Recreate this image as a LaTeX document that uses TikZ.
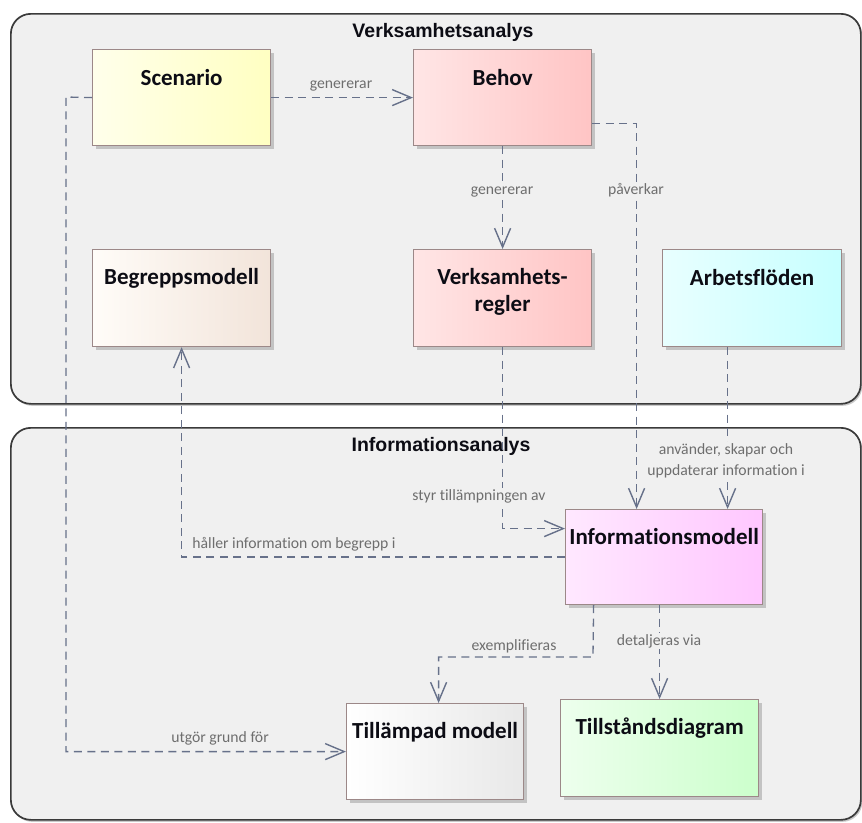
\documentclass[tikz,border=0pt]{standalone}
\usepackage{fontspec}
\setmainfont{Carlito}[Ligatures={NoCommon}]
\newfontfamily\pkgfont{Liberation Sans}
\usetikzlibrary{arrows.meta,shadows,calc}
\definecolor{pkgfill}{HTML}{F0F0F0}
\definecolor{pkgdraw}{HTML}{3A3A3A}
\definecolor{boxdraw}{HTML}{9C8888}
\definecolor{conncol}{HTML}{67718A}
\definecolor{lblcol}{HTML}{6E6E6E}
\definecolor{ttlcol}{HTML}{0C0C14}
\begin{document}
\begin{tikzpicture}[x=1pt,y=-1pt,
  pkg/.style={draw=pkgdraw, line width=1.7pt, fill=pkgfill, rounded corners=20pt,
    anchor=north west, inner sep=0pt,
    drop shadow={shadow xshift=1.5pt, shadow yshift=-2pt, fill=black!35, opacity=0.6}},
  pkgtitle/.style={font=\pkgfont\bfseries\fontsize{19.5}{21}\selectfont, text=ttlcol, inner sep=0pt},
  box/.style={draw=boxdraw, line width=1.2pt, anchor=north west, inner sep=0pt,
    drop shadow={shadow xshift=3pt, shadow yshift=-3pt, fill=black!28, opacity=0.8}},
  ttl/.style={font=\bfseries\fontsize{23}{27.5}\selectfont, text=ttlcol, align=center, inner sep=0pt},
  lbl/.style={font=\fontsize{15.7}{21}\selectfont, text=lblcol, fill=pkgfill, inner sep=1pt, align=center},
  conn/.style={draw=conncol, line width=1.3pt, dash pattern=on 8pt off 5.5pt,
    -{Straight Barb[length=19pt,width=16pt,line width=1.4pt]}}
]
\useasboundingbox (0,0) rectangle (862,822);
\fill[white] (0,0) rectangle (862,822);

% packages
\node[pkg, minimum width=850pt, minimum height=390pt] (pkA) at (10,13) {};
\node[pkgtitle] (pkAt) at (443,32) {Verksamhetsanalys};
\node[pkg, minimum width=850pt, minimum height=392pt] (pkB) at (10,427) {};
\node[pkgtitle] (pkBt) at (441,446) {Informationsanalys};

% boxes
\node[box, left color=yellow!8, right color=yellow!24, minimum width=178pt, minimum height=96pt] (sc) at (92,49) {};
\node[box, left color=red!10, right color=red!23, minimum width=178pt, minimum height=96pt] (be) at (413,49) {};
\node[box, left color={rgb,255:red,255;green,252;blue,248}, right color={rgb,255:red,242;green,228;blue,218}, minimum width=178pt, minimum height=97pt] (bm) at (92,249) {};
\node[box, left color=red!10, right color=red!23, minimum width=178pt, minimum height=97pt] (vr) at (413,249) {};
\node[box, left color=cyan!9, right color=cyan!22, minimum width=179pt, minimum height=97pt] (af) at (662,249) {};
\node[box, left color=magenta!9, right color=magenta!22, minimum width=197pt, minimum height=95pt] (im) at (565,509) {};
\node[box, left color=white, right color=black!9, minimum width=177pt, minimum height=96pt] (tm) at (346,703) {};
\node[box, left color=green!7, right color=green!20, minimum width=198pt, minimum height=97pt] (td) at (560,699) {};

\node[ttl] (scT) at ([yshift=-29pt]sc.north) {Scenario};
\node[ttl] (beT) at ([yshift=-29pt]be.north) {Behov};
\node[ttl] (bmT) at ([yshift=-29pt]bm.north) {Begreppsmodell};
\node[ttl] (vrT) at ([yshift=-43pt]vr.north) {Verksamhets-\\regler};
\node[ttl] (afT) at ([yshift=-29pt]af.north) {Arbetsflöden};
\node[ttl] (imT) at ([yshift=-28pt]im.north) {Informationsmodell};
\node[ttl] (tmT) at ([yshift=-29pt]tm.north) {Tillämpad modell};
\node[ttl] (tdT) at ([yshift=-29pt]td.north) {Tillståndsdiagram};

% waypoints
\coordinate (w1) at (66,97);
\coordinate (w2) at (593,657);

% connectors
\draw[conn] (sc.east) -- (be.west);
\draw[conn] (be.south) -- (vr.north);
\draw[conn] ([yshift=-26pt]be.east) -| ([xshift=-27.5pt]im.north);
\draw[conn] (sc.west) -- (w1) |- (tm.west);
\draw[conn] (vr.south) |- ([yshift=28.5pt]im.west);
\draw[conn] (im.west) -| (bm.south);
\draw[conn] ([xshift=-24.5pt]af.south) -- ([xshift=63.5pt]im.north);
\draw[conn] ([xshift=-70.5pt]im.south) -- (w2) -| ([xshift=3.5pt]tm.north);
\draw[conn] (td.north |- im.south) -- (td.north);

% labels
\node[lbl, fill=none] (l1) at (341,86) {genererar};
\node[lbl] (l2) at (502,192) {genererar};
\node[lbl] (l3) at (636,190) {påverkar};
\node[lbl] (l4) at (726,460.5) {använder, skapar och\\uppdaterar information i};
\node[lbl] (l5) at (479,496) {styr tillämpningen av};
\node[lbl, fill=none] (l6) at (294,544) {håller information om begrepp i};
\node[lbl, fill=none] (l7) at (514,646) {exemplifieras};
\node[lbl] (l8) at (659,641) {detaljeras via};
\node[lbl, fill=none] (l9) at (220,738) {utgör grund för};
\end{tikzpicture}
\end{document}
